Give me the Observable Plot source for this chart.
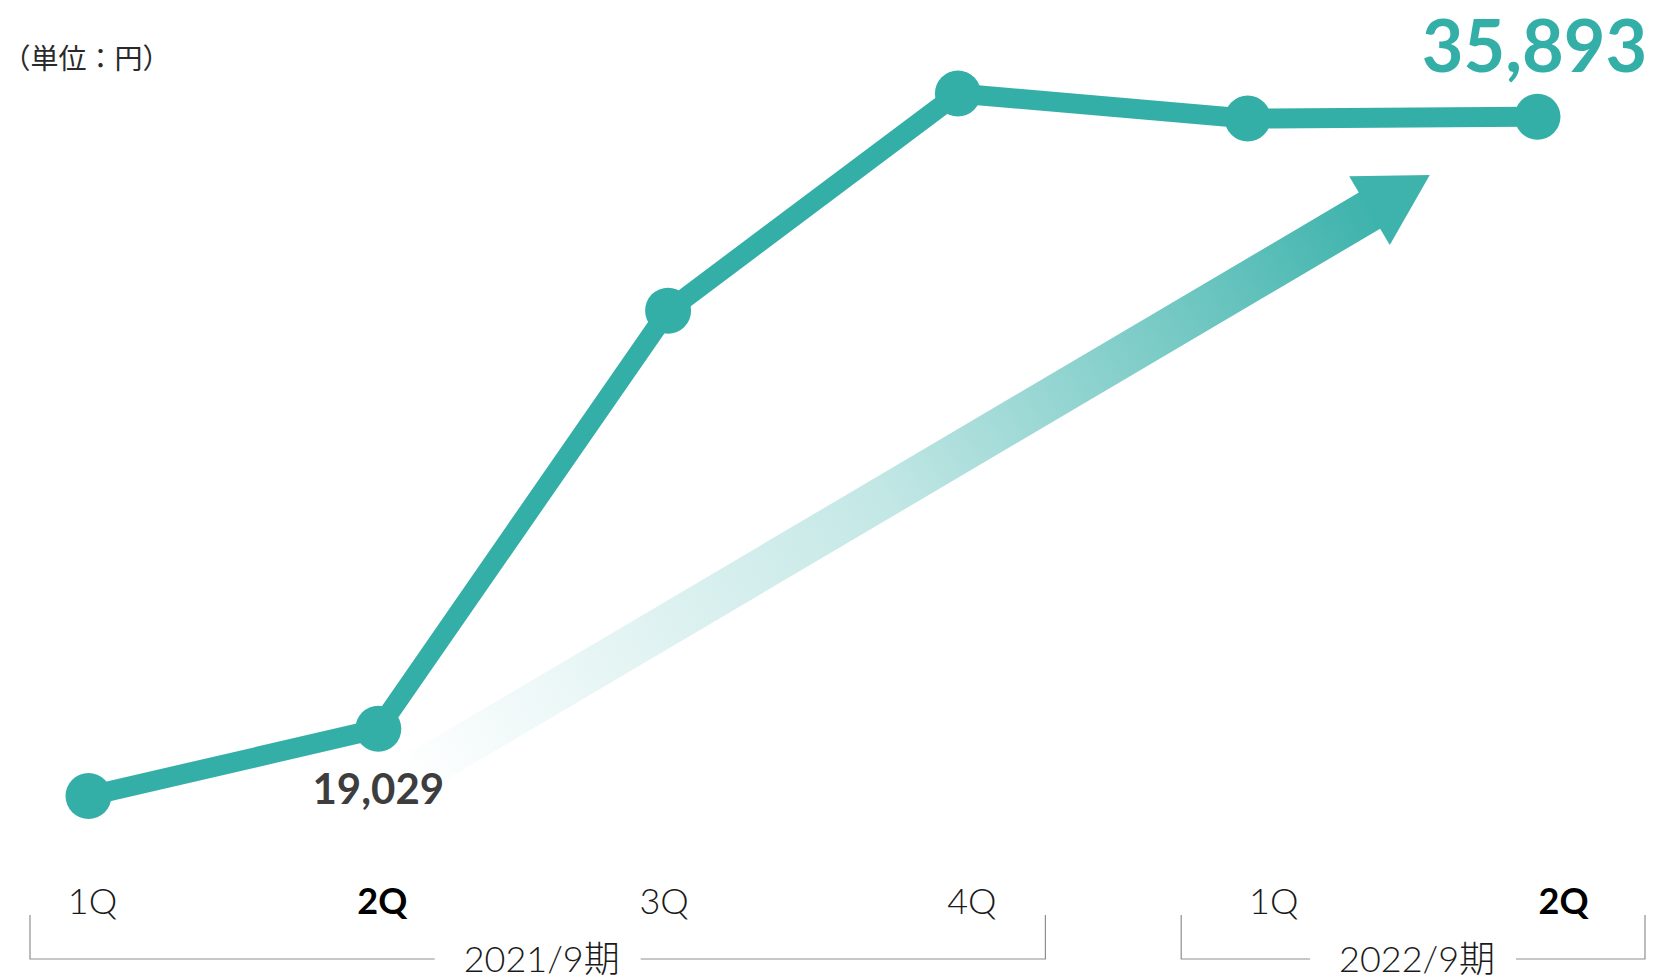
<!DOCTYPE html>
<html lang="ja">
<head>
<meta charset="utf-8">
<script src="https://cdn.jsdelivr.net/npm/d3@7"></script>
<script src="https://cdn.jsdelivr.net/npm/@observablehq/plot@0.6"></script>
<style>
  html, body { margin: 0; padding: 0; background: #fff; }
  #chart svg { display: block; }
</style>
</head>
<body>
<div id="chart"></div>
<script>
// Quarterly figures (円), fiscal years ending September
const quarters = ["1Q", "2Q", "3Q", "4Q", "1Q", "2Q"];
const fiscalYears = ["2021/9期", "2021/9期", "2021/9期", "2021/9期", "2022/9期", "2022/9期"];
const values = [17180, 19029, 30550, 36530, 35840, 35893];
const yearGroups = ["2021/9期", "2022/9期"];
const highlightQuarter = "2Q";
const unitLabel = "（単位：円）";

const rows = values.map((v, i) => ({i, quarter: quarters[i], year: fiscalYears[i], value: v}));
const firstLabelled = rows[1];               // half-year figure of the earlier year
const lastLabelled = rows[rows.length - 1];  // latest half-year figure

// ---- styling ----
const teal = "#34afa8";
const latin = "Lato, 'Noto Sans', 'Noto Sans CJK JP', sans-serif";
const cjk = "'Noto Sans CJK JP', 'Noto Sans', sans-serif";
const tickDx = [4, 4, -4, 14, 26, 26];        // per-quarter label nudge (px)
const bracketPad = [{left: 58, right: 88}, {left: 66, right: 108}];

// Trend arrow, in data units (index, 円)
const trend = {from: [1.09, 17600], to: [4.63, 34270]};

function trendArrow(index, scales, channels, dims) {
  const [x0, y0] = [scales.x(trend.from[0]), scales.y(trend.from[1])];
  const [x1, y1] = [scales.x(trend.to[0]), scales.y(trend.to[1])];
  const len = Math.hypot(x1 - x0, y1 - y0);
  const ux = (x1 - x0) / len, uy = (y1 - y0) / len;
  const nx = -uy, ny = ux;
  const shaft = 21, head = 40, headLen = 70;
  const bx = x1 - ux * headLen, by = y1 - uy * headLen;
  const p = (x, y, k) => [x + nx * k, y + ny * k];
  const pts = [
    p(x0, y0, shaft), p(bx, by, shaft), p(bx, by, head), [x1, y1],
    p(bx, by, -head), p(bx, by, -shaft), p(x0, y0, -shaft)
  ];
  const g = d3.create("svg:g");
  const grad = g.append("defs").append("linearGradient")
    .attr("id", "trend-gradient")
    .attr("gradientUnits", "userSpaceOnUse")
    .attr("x1", x0).attr("y1", y0).attr("x2", bx).attr("y2", by);
  [[0, 0], [0.5, 0.3], [0.8, 0.68], [1, 0.95]].forEach(([o, a]) =>
    grad.append("stop").attr("offset", o).attr("stop-color", teal).attr("stop-opacity", a));
  g.append("path")
    .attr("d", "M" + pts.map(d => d.join(",")).join("L") + "Z")
    .attr("fill", "url(#trend-gradient)");
  return g.node();
}

function yearBrackets(index, scales, channels, dims) {
  const bottom = dims.height - dims.marginBottom;
  const yTop = bottom + 113, yLine = bottom + 157, halfGap = 103;
  const g = d3.create("svg:g");
  yearGroups.forEach((yr, k) => {
    const idx = rows.filter(d => d.year === yr).map(d => d.i);
    const xa = scales.x(d3.min(idx)) - bracketPad[k].left;
    const xb = scales.x(d3.max(idx)) + bracketPad[k].right;
    const cx = (xa + xb) / 2;
    g.append("path")
      .attr("fill", "none").attr("stroke", "#8f8f8f").attr("stroke-width", 1.2)
      .attr("d", `M${xa},${yTop}V${yLine}H${cx - halfGap}M${cx + halfGap},${yLine}H${xb}V${yTop}`);
    g.append("text")
      .attr("x", cx + 4).attr("y", yLine).attr("dy", "0.35em")
      .attr("text-anchor", "middle")
      .attr("font-family", latin).attr("font-weight", 300).attr("font-size", 36)
      .attr("fill", "#1a1a1a")
      .text(yr);
  });
  return g.node();
}

// Quarter labels under each point; the current half-year quarter is bold
const tickMarks = rows.map((d, k) => {
  const bold = d.quarter === highlightQuarter;
  return Plot.text([d], {
    x: "i", text: "quarter", frameAnchor: "bottom", dy: 100, dx: tickDx[k],
    lineAnchor: "middle", textAnchor: "middle",
    fontSize: 36, fontWeight: bold ? 700 : 300, fontFamily: latin,
    fill: bold ? "#000" : "#1a1a1a"
  });
});

const chart = Plot.plot({
  width: 1659,
  height: 980,
  marginLeft: 88,
  marginRight: 122,
  marginTop: 76,
  marginBottom: 178,
  style: {background: "#fff", overflow: "visible"},
  x: {domain: [0, 5], axis: null},
  y: {domain: [17000, 37000], axis: null},
  marks: [
    trendArrow,
    Plot.line(rows, {x: "i", y: "value", stroke: teal, strokeWidth: 20, strokeLinejoin: "round"}),
    Plot.dot(rows, {x: "i", y: "value", r: 23, fill: teal, stroke: null}),
    Plot.text([firstLabelled], {
      x: "i", y: "value", text: d => d3.format(",")(d.value), dy: 75,
      lineAnchor: "bottom", textAnchor: "middle",
      fontSize: 42, fontWeight: 700, fontFamily: latin, fill: "#3d3d3d"
    }),
    Plot.text([lastLabelled], {
      x: "i", y: "value", text: d => d3.format(",")(d.value), dy: -45, dx: -3,
      lineAnchor: "bottom", textAnchor: "middle",
      fontSize: 72, fontWeight: 700, fontFamily: latin, fill: teal
    }),
    Plot.text([unitLabel], {
      frameAnchor: "top-left", dx: -86, dy: -16,
      textAnchor: "start", lineAnchor: "middle",
      fontSize: 28, fontWeight: 400, fontFamily: cjk, fill: "#2a2a2a"
    }),
    ...tickMarks,
    yearBrackets
  ]
});

document.getElementById("chart").appendChild(chart);
</script>
</body>
</html>
